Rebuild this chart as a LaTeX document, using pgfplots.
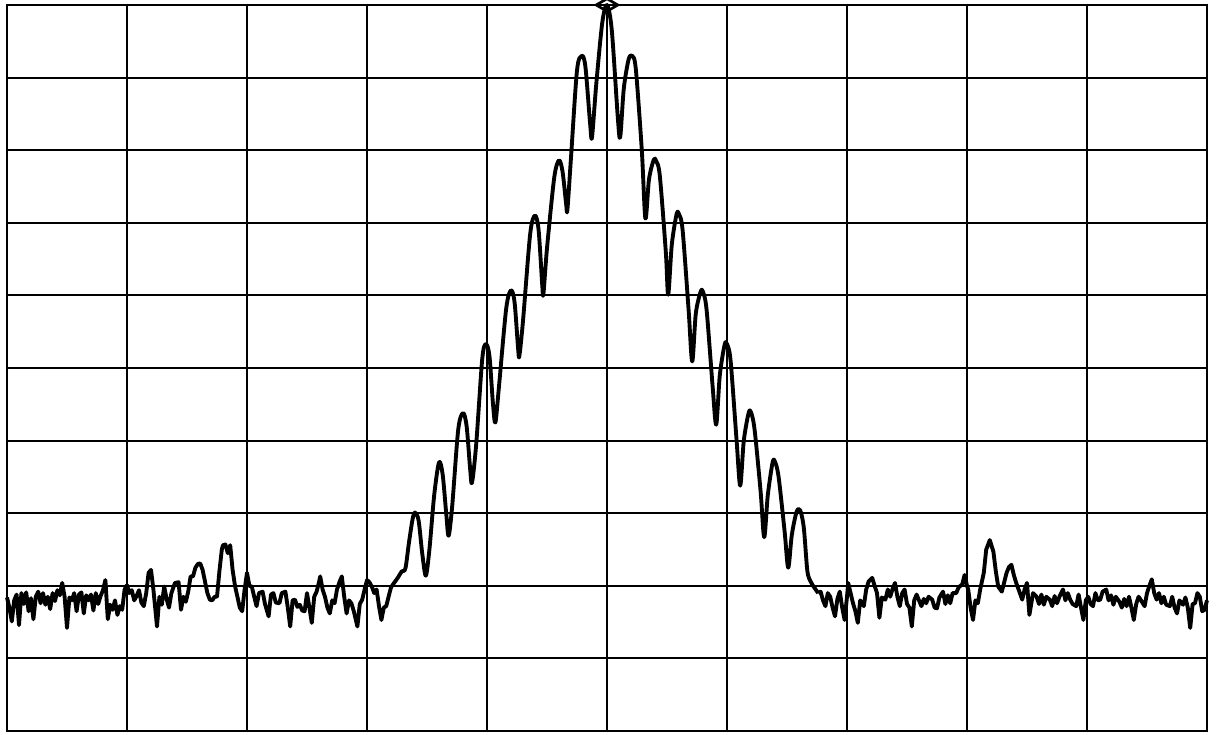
\documentclass[border=0pt]{standalone}
\usepackage{pgfplots}
\pgfplotsset{compat=1.18}
\usetikzlibrary{calc}
\begin{document}
\begin{tikzpicture}
\begin{axis}[
 scale only axis, width=15.789cm, height=9.553cm,
 xmin=0, xmax=10, ymin=-100, ymax=0,
 xtick={0,1,...,10}, ytick={-100,-90,...,0},
 xticklabels={}, yticklabels={}, major tick length=0pt,
 grid=major, grid style={black, line width=0.75pt},
 axis line style={black, line width=0.95pt},
 clip=false,
]
% left noise floor
\addplot[black, line width=1.45pt, line join=round] coordinates {
(0.00,-81.6) (0.02,-83.0) (0.04,-84.9) (0.06,-82.0) (0.08,-81.2) (0.10,-85.4)
(0.12,-81.0) (0.14,-82.5) (0.16,-80.9) (0.18,-83.5) (0.20,-81.7) (0.22,-84.6)
(0.24,-81.5) (0.26,-80.8) (0.28,-82.4) (0.30,-81.0) (0.32,-82.6) (0.34,-81.5)
(0.36,-83.2) (0.38,-81.0) (0.40,-82.1) (0.42,-80.6) (0.44,-81.3) (0.46,-79.6)
(0.48,-81.5) (0.50,-85.8) (0.52,-81.6) (0.54,-82.0) (0.56,-81.0) (0.58,-83.5)
(0.60,-81.2) (0.62,-80.9) (0.64,-83.8) (0.66,-81.3) (0.68,-82.0) (0.70,-81.2)
(0.72,-83.4) (0.74,-81.0) (0.76,-82.5) (0.78,-81.4) (0.80,-80.6) (0.82,-79.2)
(0.84,-84.6) (0.86,-82.6) (0.88,-83.3) (0.90,-82.0) (0.92,-84.0) (0.94,-82.8)
(0.96,-83.3) (0.98,-80.5) (1.00,-79.9) (1.02,-81.0) (1.04,-80.6) (1.06,-82.0)
(1.08,-81.4) (1.10,-80.6) (1.12,-82.3) (1.14,-82.8) (1.16,-81.0) (1.18,-78.2)
(1.20,-77.8) (1.22,-80.5) (1.25,-85.6) (1.27,-81.5) (1.29,-82.6) (1.31,-80.1)
(1.33,-81.8) (1.35,-83.0) (1.37,-81.0) (1.40,-79.6) (1.43,-79.5) (1.45,-83.3)
(1.47,-81.5) (1.49,-82.2) (1.51,-80.8) (1.53,-78.7) (1.55,-78.7) (1.57,-77.5)
(1.59,-77.0) (1.61,-76.9) (1.63,-77.8) (1.65,-79.4) (1.67,-81.0) (1.69,-81.9)
(1.71,-82.0) (1.73,-81.5) (1.75,-81.5) (1.77,-78.0) (1.79,-75.0) (1.80,-74.4)
(1.82,-74.3) (1.84,-75.5) (1.86,-74.4) (1.88,-77.8) (1.90,-80.0) (1.92,-81.5)
(1.94,-83.0) (1.96,-83.5) (1.98,-80.5) (2.00,-78.2) (2.02,-80.0) (2.04,-80.1)
(2.06,-81.5) (2.08,-82.8) (2.10,-81.0) (2.13,-80.8) (2.15,-82.5) (2.18,-84.2)
(2.20,-81.2) (2.22,-81.0) (2.24,-82.3) (2.27,-82.4) (2.29,-81.0) (2.32,-80.8)
(2.34,-83.0) (2.36,-85.6) (2.38,-82.0) (2.40,-81.9) (2.42,-82.9) (2.44,-82.6)
(2.46,-83.4) (2.48,-83.5) (2.50,-81.0) (2.52,-83.0) (2.54,-85.1) (2.56,-81.5)
(2.58,-80.8) (2.60,-79.5) (2.61,-78.7) (2.63,-80.5) (2.65,-81.5) (2.67,-83.0)
(2.69,-83.8) (2.71,-82.0) (2.73,-82.4) (2.75,-80.5) (2.77,-79.5) (2.79,-78.7)
(2.81,-81.5) (2.83,-83.8) (2.85,-82.0) (2.87,-82.4) (2.89,-83.5) (2.92,-85.6)
(2.94,-82.5) (2.96,-81.9) (2.98,-80.5) (3.00,-79.2) (3.02,-79.5) (3.04,-80.1)
(3.06,-81.0) (3.08,-80.5) (3.10,-82.8) (3.12,-84.7) (3.14,-83.0) (3.16,-82.8)
(3.18,-81.5) (3.20,-80.2)
};
% main lobe
\addplot[black, line width=1.45pt, line join=round, smooth, tension=0.5] coordinates {
(3.20,-80.2) (3.23,-79.5) (3.26,-78.8) (3.29,-78.0) (3.32,-77.6) (3.35,-74.0)
(3.38,-70.8) (3.40,-69.9) (3.43,-71.0) (3.46,-75.5) (3.49,-78.6) (3.52,-75.0)
(3.56,-67.5) (3.60,-63.0) (3.63,-64.6) (3.66,-70.0) (3.68,-73.1) (3.71,-69.0)
(3.76,-58.5) (3.80,-56.2) (3.83,-58.0) (3.86,-64.0) (3.875,-65.8) (3.91,-60.5)
(3.96,-48.8) (3.99,-46.7) (4.02,-48.3) (4.05,-55.0) (4.07,-57.5) (4.10,-52.5)
(4.16,-41.8) (4.20,-39.3) (4.23,-41.0) (4.26,-47.5) (4.27,-48.3) (4.30,-43.5)
(4.36,-31.5) (4.40,-29.0) (4.43,-31.0) (4.46,-38.5) (4.47,-39.8) (4.50,-33.5)
(4.56,-23.8) (4.60,-21.4) (4.63,-23.0) (4.66,-27.5) (4.67,-28.2) (4.70,-21.0)
(4.75,-9.0) (4.79,-7.0) (4.82,-8.5) (4.86,-16.5) (4.875,-18.2) (4.91,-11.0)
(4.96,-2.5) (5.00,0.0) (5.04,-3.5) (5.09,-15.5) (5.11,-18.2) (5.14,-11.5)
(5.18,-7.5) (5.21,-7.0) (5.24,-8.8) (5.29,-20.0) (5.32,-29.4) (5.35,-24.0)
(5.39,-21.3) (5.41,-21.5) (5.44,-23.5) (5.49,-34.0) (5.51,-39.9) (5.54,-33.0)
(5.58,-28.8) (5.60,-28.8) (5.63,-31.0) (5.68,-42.0) (5.71,-49.1) (5.74,-42.5)
(5.78,-39.5) (5.80,-39.5) (5.83,-42.0) (5.88,-52.5) (5.91,-57.8) (5.94,-51.0)
(5.98,-46.8) (6.00,-46.7) (6.03,-49.0) (6.08,-60.0) (6.11,-66.2) (6.14,-60.0)
(6.18,-56.2) (6.20,-56.1) (6.23,-58.5) (6.28,-67.0) (6.31,-73.3) (6.34,-67.5)
(6.38,-63.0) (6.40,-62.9) (6.43,-65.0) (6.48,-72.5) (6.51,-77.5) (6.54,-73.0)
(6.58,-69.8) (6.61,-69.6) (6.64,-72.0) (6.67,-78.0) (6.70,-79.5) (6.73,-80.3)
(6.76,-81.0)
};
% right noise floor
\addplot[black, line width=1.45pt, line join=round] coordinates {
(6.76,-81.0) (6.78,-80.8) (6.80,-82.0) (6.82,-82.8) (6.84,-81.0) (6.86,-81.5)
(6.88,-83.0) (6.90,-84.2) (6.92,-81.8) (6.94,-80.8) (6.96,-83.0) (6.98,-84.7)
(7.00,-81.5) (7.01,-79.6) (7.03,-81.0) (7.05,-82.4) (7.07,-83.5) (7.09,-85.1)
(7.11,-82.0) (7.14,-82.8) (7.16,-80.5) (7.18,-79.4) (7.21,-78.9) (7.23,-80.0)
(7.25,-81.0) (7.27,-84.4) (7.29,-81.6) (7.32,-81.9) (7.34,-80.5) (7.36,-81.5)
(7.38,-80.4) (7.40,-79.6) (7.42,-81.5) (7.44,-82.8) (7.46,-81.0) (7.48,-80.5)
(7.50,-82.5) (7.52,-83.0) (7.54,-85.6) (7.56,-82.0) (7.58,-81.2) (7.60,-82.0)
(7.62,-82.8) (7.64,-81.8) (7.66,-82.4) (7.68,-81.5) (7.71,-81.9) (7.73,-83.0)
(7.75,-83.1) (7.77,-81.6) (7.80,-80.8) (7.82,-82.5) (7.84,-81.3) (7.86,-82.4)
(7.88,-81.0) (7.91,-81.0) (7.93,-80.2) (7.96,-79.8) (7.98,-78.5) (8.00,-80.0)
(8.01,-80.5) (8.03,-83.0) (8.05,-84.7) (8.07,-82.0) (8.09,-82.4) (8.11,-80.5)
(8.14,-78.2) (8.16,-75.0) (8.19,-73.7) (8.22,-75.3) (8.24,-78.0) (8.26,-80.1)
(8.29,-80.8) (8.31,-79.5) (8.33,-78.2) (8.35,-77.4) (8.37,-77.1) (8.39,-78.5)
(8.41,-79.6) (8.43,-80.5) (8.46,-81.9) (8.48,-80.5) (8.50,-79.6) (8.52,-84.0)
(8.55,-81.0) (8.58,-81.5) (8.60,-82.5) (8.62,-81.2) (8.64,-82.6) (8.66,-81.5)
(8.69,-81.9) (8.71,-82.8) (8.73,-81.4) (8.75,-82.4) (8.77,-81.5) (8.80,-80.5)
(8.82,-82.0) (8.84,-81.0) (8.86,-81.9) (8.88,-82.5) (8.91,-82.8) (8.93,-81.2)
(8.95,-83.0) (8.97,-84.7) (8.99,-82.0) (9.01,-81.5) (9.03,-82.5) (9.05,-82.8)
(9.07,-81.0) (9.09,-82.0) (9.11,-81.9) (9.13,-80.8) (9.16,-80.5) (9.18,-82.0)
(9.20,-81.3) (9.22,-82.6) (9.24,-81.5) (9.27,-82.2) (9.29,-83.0) (9.31,-81.8)
(9.33,-82.8) (9.35,-81.5) (9.37,-83.0) (9.39,-84.7) (9.41,-82.5) (9.43,-81.5)
(9.45,-82.0) (9.48,-82.8) (9.50,-81.0) (9.52,-80.0) (9.54,-79.1) (9.56,-81.0)
(9.58,-81.9) (9.60,-81.0) (9.62,-82.4) (9.64,-81.5) (9.66,-82.6) (9.69,-82.8)
(9.71,-81.5) (9.73,-83.0) (9.75,-83.8) (9.77,-82.0) (9.80,-82.6) (9.82,-81.6)
(9.84,-83.0) (9.86,-85.8) (9.88,-82.5) (9.90,-82.4) (9.92,-81.0) (9.94,-81.5)
(9.96,-83.5) (9.98,-83.3) (10.00,-82.0)
};
% peak marker
\addplot[only marks, mark=diamond, mark size=3.6pt,
  mark options={draw=black, fill=white, line width=1pt, xscale=1.5, yscale=0.65}]
  coordinates {(5.0,0.0)};
\end{axis}
\pgfresetboundingbox
\useasboundingbox ($(current axis.south west)+(-0.0921cm,-0.0395cm)$) rectangle ($(current axis.north east)+(0.1184cm,0.0658cm)$);
\end{tikzpicture}
\end{document}
